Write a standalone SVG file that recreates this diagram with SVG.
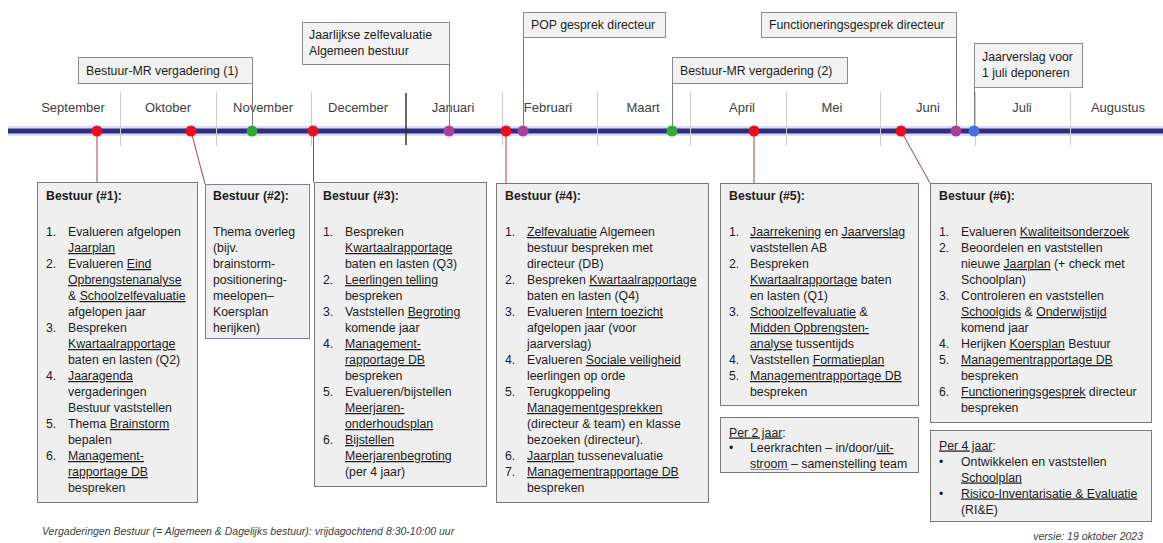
<svg xmlns="http://www.w3.org/2000/svg" width="1163" height="543" viewBox="0 0 1163 543">
<style>
.t{font-family:"Liberation Sans",Arial,sans-serif;font-size:12.3px;fill:#1c1c1c}
.b{font-weight:bold}
.u{text-decoration:underline}
.mo{font-family:"Liberation Sans",Arial,sans-serif;font-size:13px;fill:#404040;text-anchor:middle}
.ft{font-family:"Liberation Sans",Arial,sans-serif;font-size:10.5px;font-style:italic;fill:#404040}
.box{fill:#efefef;stroke:#7a7a7a;stroke-width:1}
.tbox{fill:#f2f2f2;stroke:#8a8a8a;stroke-width:1}
.sep{stroke:#cdcdcd;stroke-width:1}
.lead{stroke:#7f7f7f;stroke-width:1;fill:none}
.conn{stroke:#b23a48;stroke-width:1;fill:none}
</style>
<rect width="1163" height="543" fill="#ffffff"/>

<g id="timeline">
<line x1="8" y1="131" x2="1163" y2="131" stroke="#dcdcf4" stroke-width="10"/>
<line x1="8" y1="131" x2="1163" y2="131" stroke="#2e2d82" stroke-width="5"/>
<g class="sep">
<line x1="120.5" y1="92" x2="120.5" y2="146"/>
<line x1="216.5" y1="92" x2="216.5" y2="146"/>
<line x1="311.5" y1="92" x2="311.5" y2="146"/>
<line x1="502.5" y1="92" x2="502.5" y2="146"/>
<line x1="597.5" y1="92" x2="597.5" y2="146"/>
<line x1="690.5" y1="92" x2="690.5" y2="146"/>
<line x1="786.5" y1="92" x2="786.5" y2="146"/>
<line x1="880.5" y1="92" x2="880.5" y2="146"/>
<line x1="975.5" y1="92" x2="975.5" y2="146"/>
<line x1="1070.5" y1="92" x2="1070.5" y2="146"/>
</g>
<line x1="406" y1="93" x2="406" y2="145" stroke="#333333" stroke-width="1.5"/>
<text class="mo" x="73" y="112">September</text>
<text class="mo" x="168" y="112">Oktober</text>
<text class="mo" x="263" y="112">November</text>
<text class="mo" x="358" y="112">December</text>
<text class="mo" x="453" y="112">Januari</text>
<text class="mo" x="548" y="112">Februari</text>
<text class="mo" x="643" y="112">Maart</text>
<text class="mo" x="742" y="112">April</text>
<text class="mo" x="832" y="112">Mei</text>
<text class="mo" x="928" y="112">Juni</text>
<text class="mo" x="1022" y="112">Juli</text>
<text class="mo" x="1118" y="112">Augustus</text>
</g>

<g id="connectors">
<line class="lead" x1="252.5" y1="83" x2="252.5" y2="131"/>
<line class="lead" x1="449.5" y1="64" x2="449.5" y2="131"/>
<line class="lead" x1="523.5" y1="37" x2="523.5" y2="131"/>
<line class="lead" x1="672.5" y1="83" x2="672.5" y2="131"/>
<line class="lead" x1="956.5" y1="37" x2="956.5" y2="131"/>
<line class="lead" x1="974.5" y1="87" x2="974.5" y2="131"/>
<line class="conn" x1="97" y1="131" x2="97" y2="182"/>
<line class="conn" x1="191" y1="131" x2="205" y2="184"/>
<line class="conn" x1="313.5" y1="131" x2="313.5" y2="182"/>
<line class="conn" x1="506" y1="131" x2="506" y2="183"/>
<line class="conn" x1="754" y1="131" x2="754" y2="183"/>
<line class="conn" x1="901" y1="131" x2="930" y2="183"/>
</g>

<g id="markers">
<circle cx="97" cy="131" r="5.5" fill="#e8101e"/>
<circle cx="191" cy="131" r="5.5" fill="#e8101e"/>
<circle cx="252" cy="131" r="5.5" fill="#2ea836"/>
<circle cx="313" cy="131" r="5.5" fill="#e8101e"/>
<circle cx="449" cy="131" r="5.5" fill="#a8409c"/>
<circle cx="506" cy="131" r="5.5" fill="#e8101e"/>
<circle cx="523" cy="131" r="5.5" fill="#a8409c"/>
<circle cx="672" cy="131" r="5.5" fill="#2ea836"/>
<circle cx="754" cy="131" r="5.5" fill="#e8101e"/>
<circle cx="901" cy="131" r="5.5" fill="#e8101e"/>
<circle cx="956" cy="131" r="5.5" fill="#a8409c"/>
<circle cx="974" cy="131" r="5.5" fill="#4a6ee0"/>
</g>

<g id="mr1">
<rect class="tbox" x="78.5" y="57.5" width="174" height="26"/>
<text class="t" x="86" y="74.5">Bestuur-MR vergadering (1)</text>
</g>
<g id="zelfevaluatie">
<rect class="tbox" x="302.5" y="22.5" width="147" height="42"/>
<text class="t" x="309" y="38.5">Jaarlijkse zelfevaluatie</text>
<text class="t" x="309" y="54.5">Algemeen bestuur</text>
</g>
<g id="pop">
<rect class="tbox" x="523.5" y="12.5" width="142" height="25"/>
<text class="t" x="531" y="29">POP gesprek directeur</text>
</g>
<g id="mr2">
<rect class="tbox" x="672.5" y="57.5" width="175" height="26"/>
<text class="t" x="680" y="74.5">Bestuur-MR vergadering (2)</text>
</g>
<g id="functionering">
<rect class="tbox" x="761.5" y="12.5" width="195" height="25"/>
<text class="t" x="769" y="29">Functioneringsgesprek directeur</text>
</g>
<g id="jaarverslag">
<rect class="tbox" x="974.5" y="43.5" width="108" height="44"/>
<text class="t" x="982" y="61">Jaarverslag voor</text>
<text class="t" x="982" y="77">1 juli deponeren</text>
</g>

<g id="bestuur1">
<rect class="box" x="37.5" y="182.5" width="160" height="320"/>
<text class="t b" x="46" y="200">Bestuur (#1):</text>
<g class="t">
<text x="46" y="236">1.</text><text x="68" y="236">Evalueren afgelopen</text>
<text x="68" y="252"><tspan class="u">Jaarplan</tspan></text>
<text x="46" y="268">2.</text><text x="68" y="268">Evalueren <tspan class="u">Eind</tspan></text>
<text x="68" y="284"><tspan class="u">Opbrengstenanalyse</tspan></text>
<text x="68" y="300">&amp; <tspan class="u">Schoolzelfevaluatie</tspan></text>
<text x="68" y="316">afgelopen jaar</text>
<text x="46" y="332">3.</text><text x="68" y="332">Bespreken</text>
<text x="68" y="348"><tspan class="u">Kwartaalrapportage</tspan></text>
<text x="68" y="364">baten en lasten (Q2)</text>
<text x="46" y="380">4.</text><text x="68" y="380"><tspan class="u">Jaaragenda</tspan></text>
<text x="68" y="396">vergaderingen</text>
<text x="68" y="412">Bestuur vaststellen</text>
<text x="46" y="428">5.</text><text x="68" y="428">Thema <tspan class="u">Brainstorm</tspan></text>
<text x="68" y="444">bepalen</text>
<text x="46" y="460">6.</text><text x="68" y="460"><tspan class="u">Management-</tspan></text>
<text x="68" y="476"><tspan class="u">rapportage DB</tspan></text>
<text x="68" y="492">bespreken</text>
</g>
</g>

<g id="bestuur2">
<rect class="box" x="205.5" y="184.5" width="104" height="154" style="stroke:#7d7ca6"/>
<text class="t b" x="213" y="200">Bestuur (#2):</text>
<g class="t">
<text x="213" y="236">Thema overleg</text>
<text x="213" y="252">(bijv.</text>
<text x="213" y="268">brainstorm-</text>
<text x="213" y="284">positionering-</text>
<text x="213" y="300">meelopen–</text>
<text x="213" y="316">Koersplan</text>
<text x="213" y="332">herijken)</text>
</g>
</g>

<g id="bestuur3">
<rect class="box" x="314.5" y="182.5" width="172" height="304"/>
<text class="t b" x="323" y="200">Bestuur (#3):</text>
<g class="t">
<text x="323" y="236">1.</text><text x="345" y="236">Bespreken</text>
<text x="345" y="252"><tspan class="u">Kwartaalrapportage</tspan></text>
<text x="345" y="268">baten en lasten (Q3)</text>
<text x="323" y="284">2.</text><text x="345" y="284"><tspan class="u">Leerlingen telling</tspan></text>
<text x="345" y="300">bespreken</text>
<text x="323" y="316">3.</text><text x="345" y="316">Vaststellen <tspan class="u">Begroting</tspan></text>
<text x="345" y="332">komende jaar</text>
<text x="323" y="348">4.</text><text x="345" y="348"><tspan class="u">Management-</tspan></text>
<text x="345" y="364"><tspan class="u">rapportage DB</tspan></text>
<text x="345" y="380">bespreken</text>
<text x="323" y="396">5.</text><text x="345" y="396">Evalueren/bijstellen</text>
<text x="345" y="412"><tspan class="u">Meerjaren-</tspan></text>
<text x="345" y="428"><tspan class="u">onderhoudsplan</tspan></text>
<text x="323" y="444">6.</text><text x="345" y="444"><tspan class="u">Bijstellen</tspan></text>
<text x="345" y="460"><tspan class="u">Meerjarenbegroting</tspan></text>
<text x="345" y="476">(per 4 jaar)</text>
</g>
</g>

<g id="bestuur4">
<rect class="box" x="496.5" y="183.5" width="212" height="319"/>
<text class="t b" x="505" y="200">Bestuur (#4):</text>
<g class="t">
<text x="505" y="236">1.</text><text x="527" y="236"><tspan class="u">Zelfevaluatie</tspan> Algemeen</text>
<text x="527" y="252">bestuur bespreken met</text>
<text x="527" y="268">directeur (DB)</text>
<text x="505" y="284">2.</text><text x="527" y="284">Bespreken <tspan class="u">Kwartaalrapportage</tspan></text>
<text x="527" y="300">baten en lasten (Q4)</text>
<text x="505" y="316">3.</text><text x="527" y="316">Evalueren <tspan class="u">Intern toezicht</tspan></text>
<text x="527" y="332">afgelopen jaar (voor</text>
<text x="527" y="348">jaarverslag)</text>
<text x="505" y="364">4.</text><text x="527" y="364">Evalueren <tspan class="u">Sociale veiligheid</tspan></text>
<text x="527" y="380">leerlingen op orde</text>
<text x="505" y="396">5.</text><text x="527" y="396">Terugkoppeling</text>
<text x="527" y="412"><tspan class="u">Managementgesprekken</tspan></text>
<text x="527" y="428">(directeur &amp; team) en klasse</text>
<text x="527" y="444">bezoeken (directeur).</text>
<text x="505" y="460">6.</text><text x="527" y="460"><tspan class="u">Jaarplan</tspan> tussenevaluatie</text>
<text x="505" y="476">7.</text><text x="527" y="476"><tspan class="u">Managementrapportage DB</tspan></text>
<text x="527" y="492">bespreken</text>
</g>
</g>

<g id="bestuur5">
<rect class="box" x="720.5" y="183.5" width="198" height="222"/>
<text class="t b" x="729" y="200">Bestuur (#5):</text>
<g class="t">
<text x="729" y="236">1.</text><text x="750" y="236"><tspan class="u">Jaarrekening</tspan> en <tspan class="u">Jaarverslag</tspan></text>
<text x="750" y="252">vaststellen AB</text>
<text x="729" y="268">2.</text><text x="750" y="268">Bespreken</text>
<text x="750" y="284"><tspan class="u">Kwartaalrapportage</tspan> baten</text>
<text x="750" y="300">en lasten (Q1)</text>
<text x="729" y="316">3.</text><text x="750" y="316"><tspan class="u">Schoolzelfevaluatie</tspan> &amp;</text>
<text x="750" y="332"><tspan class="u">Midden Opbrengsten-</tspan></text>
<text x="750" y="348"><tspan class="u">analyse</tspan> tussentijds</text>
<text x="729" y="364">4.</text><text x="750" y="364">Vaststellen <tspan class="u">Formatieplan</tspan></text>
<text x="729" y="380">5.</text><text x="750" y="380"><tspan class="u">Managementrapportage DB</tspan></text>
<text x="750" y="396">bespreken</text>
</g>
</g>

<g id="per2jaar">
<rect class="box" x="720.5" y="417.5" width="198" height="55"/>
<g class="t">
<text x="729" y="436.5"><tspan class="u">Per 2 jaar</tspan>:</text>
<text x="729" y="452">•</text><text x="750" y="452">Leerkrachten – in/door/<tspan class="u">uit-</tspan></text>
<text x="750" y="467.5">stroom – samenstelling team</text>
</g>
<line x1="750" y1="469.5" x2="789" y2="469.5" stroke="#e06080" stroke-width="1"/>
</g>

<g id="bestuur6">
<rect class="box" x="930.5" y="183.5" width="221" height="239"/>
<text class="t b" x="939" y="200">Bestuur (#6):</text>
<g class="t">
<text x="939" y="236">1.</text><text x="961" y="236">Evalueren <tspan class="u">Kwaliteitsonderzoek</tspan></text>
<text x="939" y="252">2.</text><text x="961" y="252">Beoordelen en vaststellen</text>
<text x="961" y="268">nieuwe <tspan class="u">Jaarplan</tspan> (+ check met</text>
<text x="961" y="284">Schoolplan)</text>
<text x="939" y="300">3.</text><text x="961" y="300">Controleren en vaststellen</text>
<text x="961" y="316"><tspan class="u">Schoolgids</tspan> &amp; <tspan class="u">Onderwijstijd</tspan></text>
<text x="961" y="332">komend jaar</text>
<text x="939" y="348">4.</text><text x="961" y="348">Herijken <tspan class="u">Koersplan</tspan> Bestuur</text>
<text x="939" y="364">5.</text><text x="961" y="364"><tspan class="u">Managementrapportage DB</tspan></text>
<text x="961" y="380">bespreken</text>
<text x="939" y="396">6.</text><text x="961" y="396"><tspan class="u">Functioneringsgesprek</tspan> directeur</text>
<text x="961" y="412">bespreken</text>
</g>
</g>

<g id="per4jaar">
<rect class="box" x="930.5" y="430.5" width="221" height="91"/>
<g class="t">
<text x="939" y="449.5"><tspan class="u">Per 4 jaar</tspan>:</text>
<text x="939" y="465.5">•</text><text x="961" y="465.5">Ontwikkelen en vaststellen</text>
<text x="961" y="481.5"><tspan class="u">Schoolplan</tspan></text>
<text x="939" y="497.5">•</text><text x="961" y="497.5"><tspan class="u">Risico-Inventarisatie &amp; Evaluatie</tspan></text>
<text x="961" y="513.5">(RI&amp;E)</text>
</g>
</g>

<g id="footer">
<text class="ft" x="42" y="535">Vergaderingen Bestuur (= Algemeen &amp; Dagelijks bestuur): vrijdagochtend 8:30-10:00 uur</text>
<text class="ft" x="1143" y="540" text-anchor="end">versie: 19 oktober 2023</text>
</g>
</svg>
